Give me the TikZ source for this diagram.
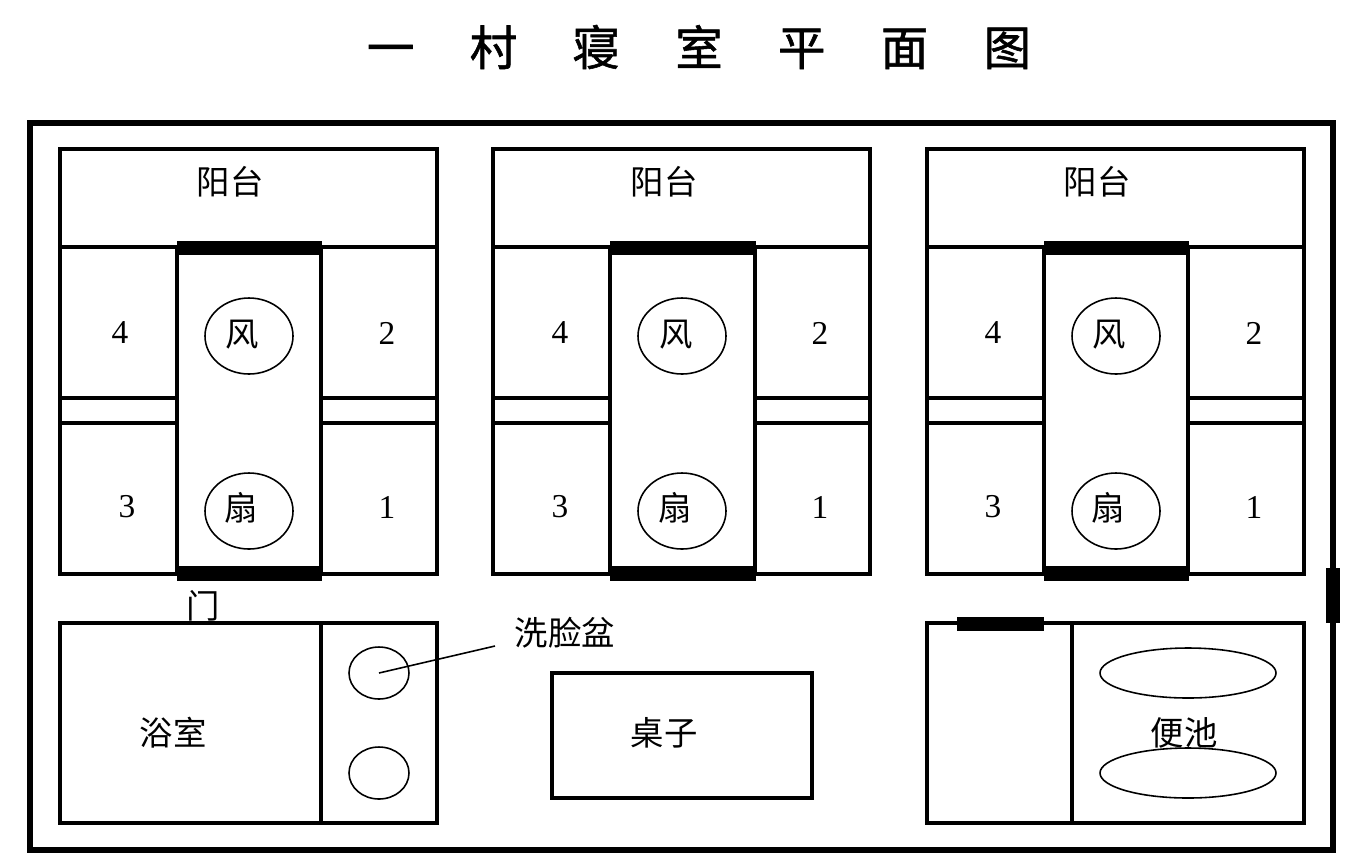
\documentclass[tikz,border=0pt]{standalone}
\usepackage{fontspec}
\usetikzlibrary{shapes.geometric}
\newfontfamily\cjk{Noto Sans CJK SC}
\newfontfamily\titlefont[FakeBold=1.2]{Noto Sans CJK SC}
\newfontfamily\numfont{Liberation Serif}

\tikzstyle{outerwall} = [draw, line width=3pt]
\tikzstyle{wall} = [draw, line width=1.8pt]
\tikzstyle{roomwall} = [draw, line width=2.3pt]
\tikzstyle{fixture} = [draw, line width=0.9pt]
\tikzstyle{basin} = [draw, line width=0.9pt, ellipse, minimum width=60*0.2mm, minimum height=52*0.2mm, inner sep=0pt]
\tikzstyle{doorbar} = [fill=black]
\tikzstyle{roomlabel} = [inner sep=0pt, font=\fontsize{19}{19}\selectfont\cjk]
\tikzstyle{numlabel} = [inner sep=0pt, font=\fontsize{19}{19}\selectfont\numfont]

\begin{document}
\begin{tikzpicture}[x=0.02cm, y=-0.02cm]

	\useasboundingbox (0,0) rectangle (1348,860);

	% Title
	\node (title) at (699,47) [inner sep=0pt, font=\fontsize{27}{27}\selectfont\titlefont] {一\hspace{31.5pt}村\hspace{31.5pt}寝\hspace{31.5pt}室\hspace{31.5pt}平\hspace{31.5pt}面\hspace{31.5pt}图};

	% Outer wall
	\draw[outerwall] (30,123) rectangle (1333,850);
	\draw[doorbar] (1326,568) rectangle (1339,622);

	% Left block
	\draw[wall] (60,149) rectangle (437,574);
	\draw[wall] (60,247) -- (437,247);
	\draw[roomwall] (177,247) rectangle (321,574);
	\draw[wall] (60,398) -- (177,398);
	\draw[wall] (60,423) -- (177,423);
	\draw[wall] (321,398) -- (437,398);
	\draw[wall] (321,423) -- (437,423);
	\draw[doorbar] (177,241) rectangle (321,254);
	\draw[doorbar] (177,566) rectangle (321,580);
	\draw[fixture] (249,336) ellipse (44 and 38);
	\draw[fixture] (249,511) ellipse (44 and 38);
	\node (balconyA) at (230,182) [roomlabel] {阳台};
	\node (fanA) at (242,335) [roomlabel] {风};
	\node (shanA) at (241,508) [roomlabel] {扇};
	\node (bedAfour) at (120,333) [numlabel] {4};
	\node (bedAtwo) at (387,333) [numlabel] {2};
	\node (bedAthree) at (127,507) [numlabel] {3};
	\node (bedAone) at (387,507) [numlabel] {1};

	% Middle block
	\draw[wall] (493,149) rectangle (870,574);
	\draw[wall] (493,247) -- (870,247);
	\draw[roomwall] (610,247) rectangle (755,574);
	\draw[wall] (493,398) -- (610,398);
	\draw[wall] (493,423) -- (610,423);
	\draw[wall] (755,398) -- (870,398);
	\draw[wall] (755,423) -- (870,423);
	\draw[doorbar] (610,241) rectangle (755,254);
	\draw[doorbar] (610,566) rectangle (755,580);
	\draw[fixture] (682,336) ellipse (44 and 38);
	\draw[fixture] (682,511) ellipse (44 and 38);
	\node (balconyB) at (664,182) [roomlabel] {阳台};
	\node (fanB) at (676,335) [roomlabel] {风};
	\node (shanB) at (675,508) [roomlabel] {扇};
	\node (bedBfour) at (560,333) [numlabel] {4};
	\node (bedBtwo) at (820,333) [numlabel] {2};
	\node (bedBthree) at (560,507) [numlabel] {3};
	\node (bedBone) at (820,507) [numlabel] {1};

	% Right block
	\draw[wall] (927,149) rectangle (1304,574);
	\draw[wall] (927,247) -- (1304,247);
	\draw[roomwall] (1044,247) rectangle (1188,574);
	\draw[wall] (927,398) -- (1044,398);
	\draw[wall] (927,423) -- (1044,423);
	\draw[wall] (1188,398) -- (1304,398);
	\draw[wall] (1188,423) -- (1304,423);
	\draw[doorbar] (1044,241) rectangle (1188,254);
	\draw[doorbar] (1044,566) rectangle (1188,580);
	\draw[fixture] (1116,336) ellipse (44 and 38);
	\draw[fixture] (1116,511) ellipse (44 and 38);
	\node (balconyC) at (1097,182) [roomlabel] {阳台};
	\node (fanC) at (1109,335) [roomlabel] {风};
	\node (shanC) at (1108,508) [roomlabel] {扇};
	\node (bedCfour) at (993,333) [numlabel] {4};
	\node (bedCtwo) at (1254,333) [numlabel] {2};
	\node (bedCthree) at (993,507) [numlabel] {3};
	\node (bedCone) at (1254,507) [numlabel] {1};

	% Bathroom
	\node (door) at (203,606) [roomlabel] {门};
	\draw[wall] (60,623) rectangle (437,823);
	\draw[wall] (321,623) -- (321,823);
	\node (bathroom) at (173,733) [roomlabel] {浴室};
	\node (basinA) at (379,673) [basin] {};
	\node (basinB) at (379,773) [basin] {};
	\node (washlabel) at (565,633) [roomlabel] {洗脸盆};
	\coordinate (leaderend) at (495,646);
	\draw[fixture] (basinA.center) -- (leaderend);

	% Table
	\draw[wall] (552,673) rectangle (812,798);
	\node (table) at (664,733) [roomlabel] {桌子};

	% Toilet
	\draw[wall] (927,623) rectangle (1304,823);
	\draw[wall] (1072,623) -- (1072,823);
	\draw[doorbar] (957,617) rectangle (1043,630);
	\node (toilet) at (1184,733) [roomlabel] {便池};
	\draw[fixture] (1188,673) ellipse (88 and 25);
	\draw[fixture] (1188,773) ellipse (88 and 25);

\end{tikzpicture}
\end{document}
